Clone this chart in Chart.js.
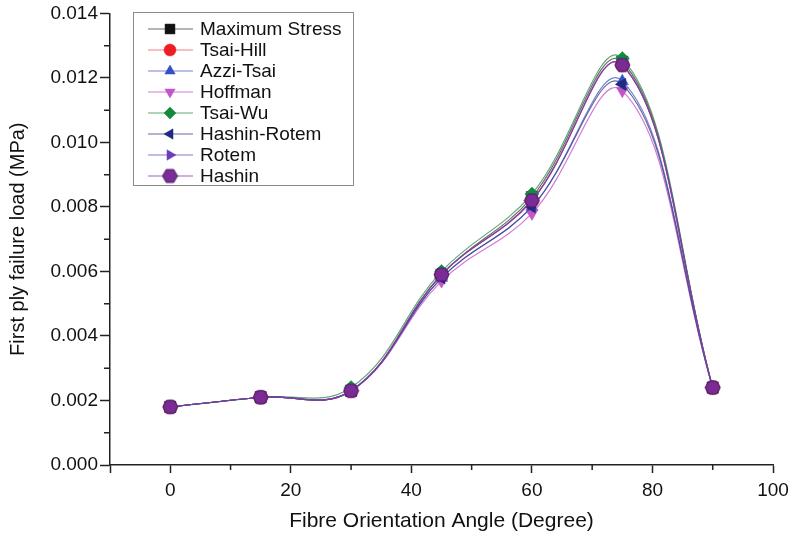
<!DOCTYPE html>
<html>
<head>
<meta charset="utf-8">
<script src="https://cdn.jsdelivr.net/npm/chart.js@4.4.1/dist/chart.umd.min.js"></script>
<style>
  html, body { margin: 0; padding: 0; background: #fff; }
  #wrap { width: 789px; height: 537px; }
</style>
</head>
<body>
<div id="wrap"><canvas id="chart" width="789" height="537"></canvas></div>
<script>
const angles = [0, 15, 30, 45, 60, 75, 90];

const seriesNames = ["Maximum Stress", "Tsai-Hill", "Azzi-Tsai", "Hoffman", "Tsai-Wu", "Hashin-Rotem", "Rotem", "Hashin"];

const maxStress   = [0.0018, 0.0021, 0.0023, 0.0059, 0.0083, 0.0125, 0.0024];
const tsaiHill    = [0.0018, 0.0021, 0.0023, 0.0059, 0.0082, 0.0124, 0.0024];
const azziTsai    = [0.0018, 0.0021, 0.0023, 0.0058, 0.0080, 0.0119, 0.0024];
const hoffman     = [0.0018, 0.0021, 0.0023, 0.0057, 0.0078, 0.0116, 0.0024];
const tsaiWu      = [0.0018, 0.0021, 0.0024, 0.0060, 0.0084, 0.0126, 0.0024];
const hashinRotem = [0.0018, 0.0021, 0.0023, 0.0058, 0.0080, 0.0118, 0.0024];
const rotem       = [0.0018, 0.0021, 0.0023, 0.0059, 0.0082, 0.0124, 0.0024];
const hashin      = [0.0018, 0.0021, 0.0023, 0.0059, 0.0082, 0.0124, 0.0024];

const xTicks = [0, 20, 40, 60, 80, 100];
const yTicks = [0, 0.002, 0.004, 0.006, 0.008, 0.010, 0.012, 0.014];

const FONT = "'Liberation Sans', Arial, sans-serif";

// hexagon marker for Hashin (no built-in style)
function hexagon(color, edge, r) {
  const c = document.createElement("canvas");
  const s = Math.ceil(r * 2 + 2);
  c.width = s; c.height = s;
  const g = c.getContext("2d");
  g.beginPath();
  for (let i = 0; i < 6; i++) {
    const a = Math.PI / 3 * i;
    const px = s / 2 + r * Math.cos(a), py = s / 2 + r * Math.sin(a);
    i ? g.lineTo(px, py) : g.moveTo(px, py);
  }
  g.closePath();
  g.fillStyle = color; g.fill();
  g.strokeStyle = edge; g.lineWidth = 1; g.stroke();
  return c;
}

const styles = [
  { color: "#111111", line: "rgba(60,60,60,0.75)",    point: "rect",     rot: 0,   r: 8 },
  { color: "#ee1c24", line: "rgba(230,90,100,0.75)",  point: "circle",   rot: 0,   r: 7 },
  { color: "#3050c8", line: "rgba(80,90,190,0.75)",   point: "triangle", rot: 0,   r: 7 },
  { color: "#c255c8", line: "rgba(200,90,200,0.8)",   point: "triangle", rot: 180, r: 7 },
  { color: "#138a3c", line: "rgba(40,140,70,0.75)",   point: "rectRot",  rot: 0,   r: 7 },
  { color: "#1f2a80", line: "rgba(50,60,130,0.75)",   point: "triangle", rot: -90, r: 7 },
  { color: "#6a3cc0", line: "rgba(110,70,180,0.75)",  point: "triangle", rot: 90,  r: 7 },
  { color: "#7a2b95", line: "rgba(130,60,160,0.8)",   point: null,       rot: 0,   r: 7 }
];
styles[7].point = hexagon("#7a2b95", "#4a1a6a", 7.5);

const values = [maxStress, tsaiHill, azziTsai, hoffman, tsaiWu, hashinRotem, rotem, hashin];

const datasets = values.map((vals, i) => ({
  label: seriesNames[i],
  data: vals.map((v, k) => ({ x: angles[k], y: v })),
  borderColor: styles[i].line,
  backgroundColor: styles[i].color,
  pointBackgroundColor: styles[i].color,
  pointBorderColor: styles[i].color,
  pointBorderWidth: 0.5,
  pointStyle: styles[i].point,
  pointRotation: styles[i].rot,
  pointRadius: styles[i].r,
  borderWidth: 1.2,
  tension: 0.4,
  fill: false,
  order: values.length - 1 - i
}));

// boxed legend inside the plot + short minor ticks
const extras = {
  id: "extras",
  afterDraw(chart) {
    const ctx = chart.ctx;
    const xs = chart.scales.x, ys = chart.scales.y;
    ctx.save();
    ctx.strokeStyle = "#222";
    ctx.lineWidth = 1.5;
    ctx.beginPath();
    [10, 30, 50, 70, 90].forEach((v) => {
      const px = xs.getPixelForValue(v);
      ctx.moveTo(px, xs.top); ctx.lineTo(px, xs.top + 5);
    });
    [0.001, 0.003, 0.005, 0.007, 0.009, 0.011, 0.013].forEach((v) => {
      const py = ys.getPixelForValue(v);
      ctx.moveTo(ys.right, py); ctx.lineTo(ys.right - 6, py);
    });
    ctx.stroke();

    // legend box
    ctx.strokeStyle = "#8a8a8a";
    ctx.lineWidth = 1;
    ctx.strokeRect(133.5, 12.5, 220, 173);
    ctx.font = "19px " + FONT;
    ctx.textBaseline = "middle";
    chart.data.datasets.forEach((ds, i) => {
      const y = 29 + i * 21;
      ctx.strokeStyle = ds.borderColor;
      ctx.lineWidth = 1.2;
      ctx.beginPath();
      ctx.moveTo(148, y); ctx.lineTo(193, y);
      ctx.stroke();
      ctx.fillStyle = ds.pointBackgroundColor;
      ctx.strokeStyle = ds.pointBorderColor;
      ctx.lineWidth = 0.5;
      Chart.helpers.drawPoint(ctx, {
        pointStyle: ds.pointStyle,
        rotation: ds.pointRotation,
        radius: ds.pointRadius - 1,
        borderWidth: 0.5
      }, 170, y);
      ctx.fillStyle = "#111";
      ctx.fillText(ds.label, 200, y + 1);
    });
    ctx.restore();
  }
};

new Chart(document.getElementById("chart").getContext("2d"), {
  type: "line",
  data: { datasets },
  options: {
    responsive: false,
    animation: false,
    layout: { padding: { top: 13, right: 0, left: 0, bottom: 0 } },
    plugins: {
      legend: { display: false },
      tooltip: { enabled: false }
    },
    scales: {
      x: {
        type: "linear",
        min: -10,
        max: 100,
        afterBuildTicks(scale) {
          scale.ticks = [-10].concat(xTicks).map((v) => ({ value: v }));
        },
        afterFit(scale) { scale.height = 72; scale.paddingRight = 16; },
        border: { color: "#222", width: 1.5 },
        grid: { drawOnChartArea: false, tickLength: 8, color: "#222", tickWidth: 1.5 },
        ticks: {
          padding: 6,
          color: "#111",
          font: { family: FONT, size: 19 },
          callback: (v) => (v >= 0 ? String(v) : "")
        },
        title: {
          display: true,
          text: "Fibre Orientation Angle (Degree)",
          color: "#111",
          font: { family: FONT, size: 21 },
          padding: { top: 2, bottom: 3 }
        }
      },
      y: {
        min: 0,
        max: 0.014,
        afterBuildTicks(scale) {
          scale.ticks = yTicks.map((v) => ({ value: v }));
        },
        afterFit(scale) { scale.width = 110; },
        border: { color: "#222", width: 1.5 },
        grid: { drawOnChartArea: false, tickLength: 10, color: "#222", tickWidth: 1.5 },
        ticks: {
          padding: 2,
          color: "#111",
          font: { family: FONT, size: 19 },
          callback: (v) => Number(v).toFixed(3)
        },
        title: {
          display: true,
          text: "First ply failure load (MPa)",
          color: "#111",
          font: { family: FONT, size: 20 },
          padding: { top: 6, bottom: 6 }
        }
      }
    }
  },
  plugins: [extras]
});
</script>
</body>
</html>
